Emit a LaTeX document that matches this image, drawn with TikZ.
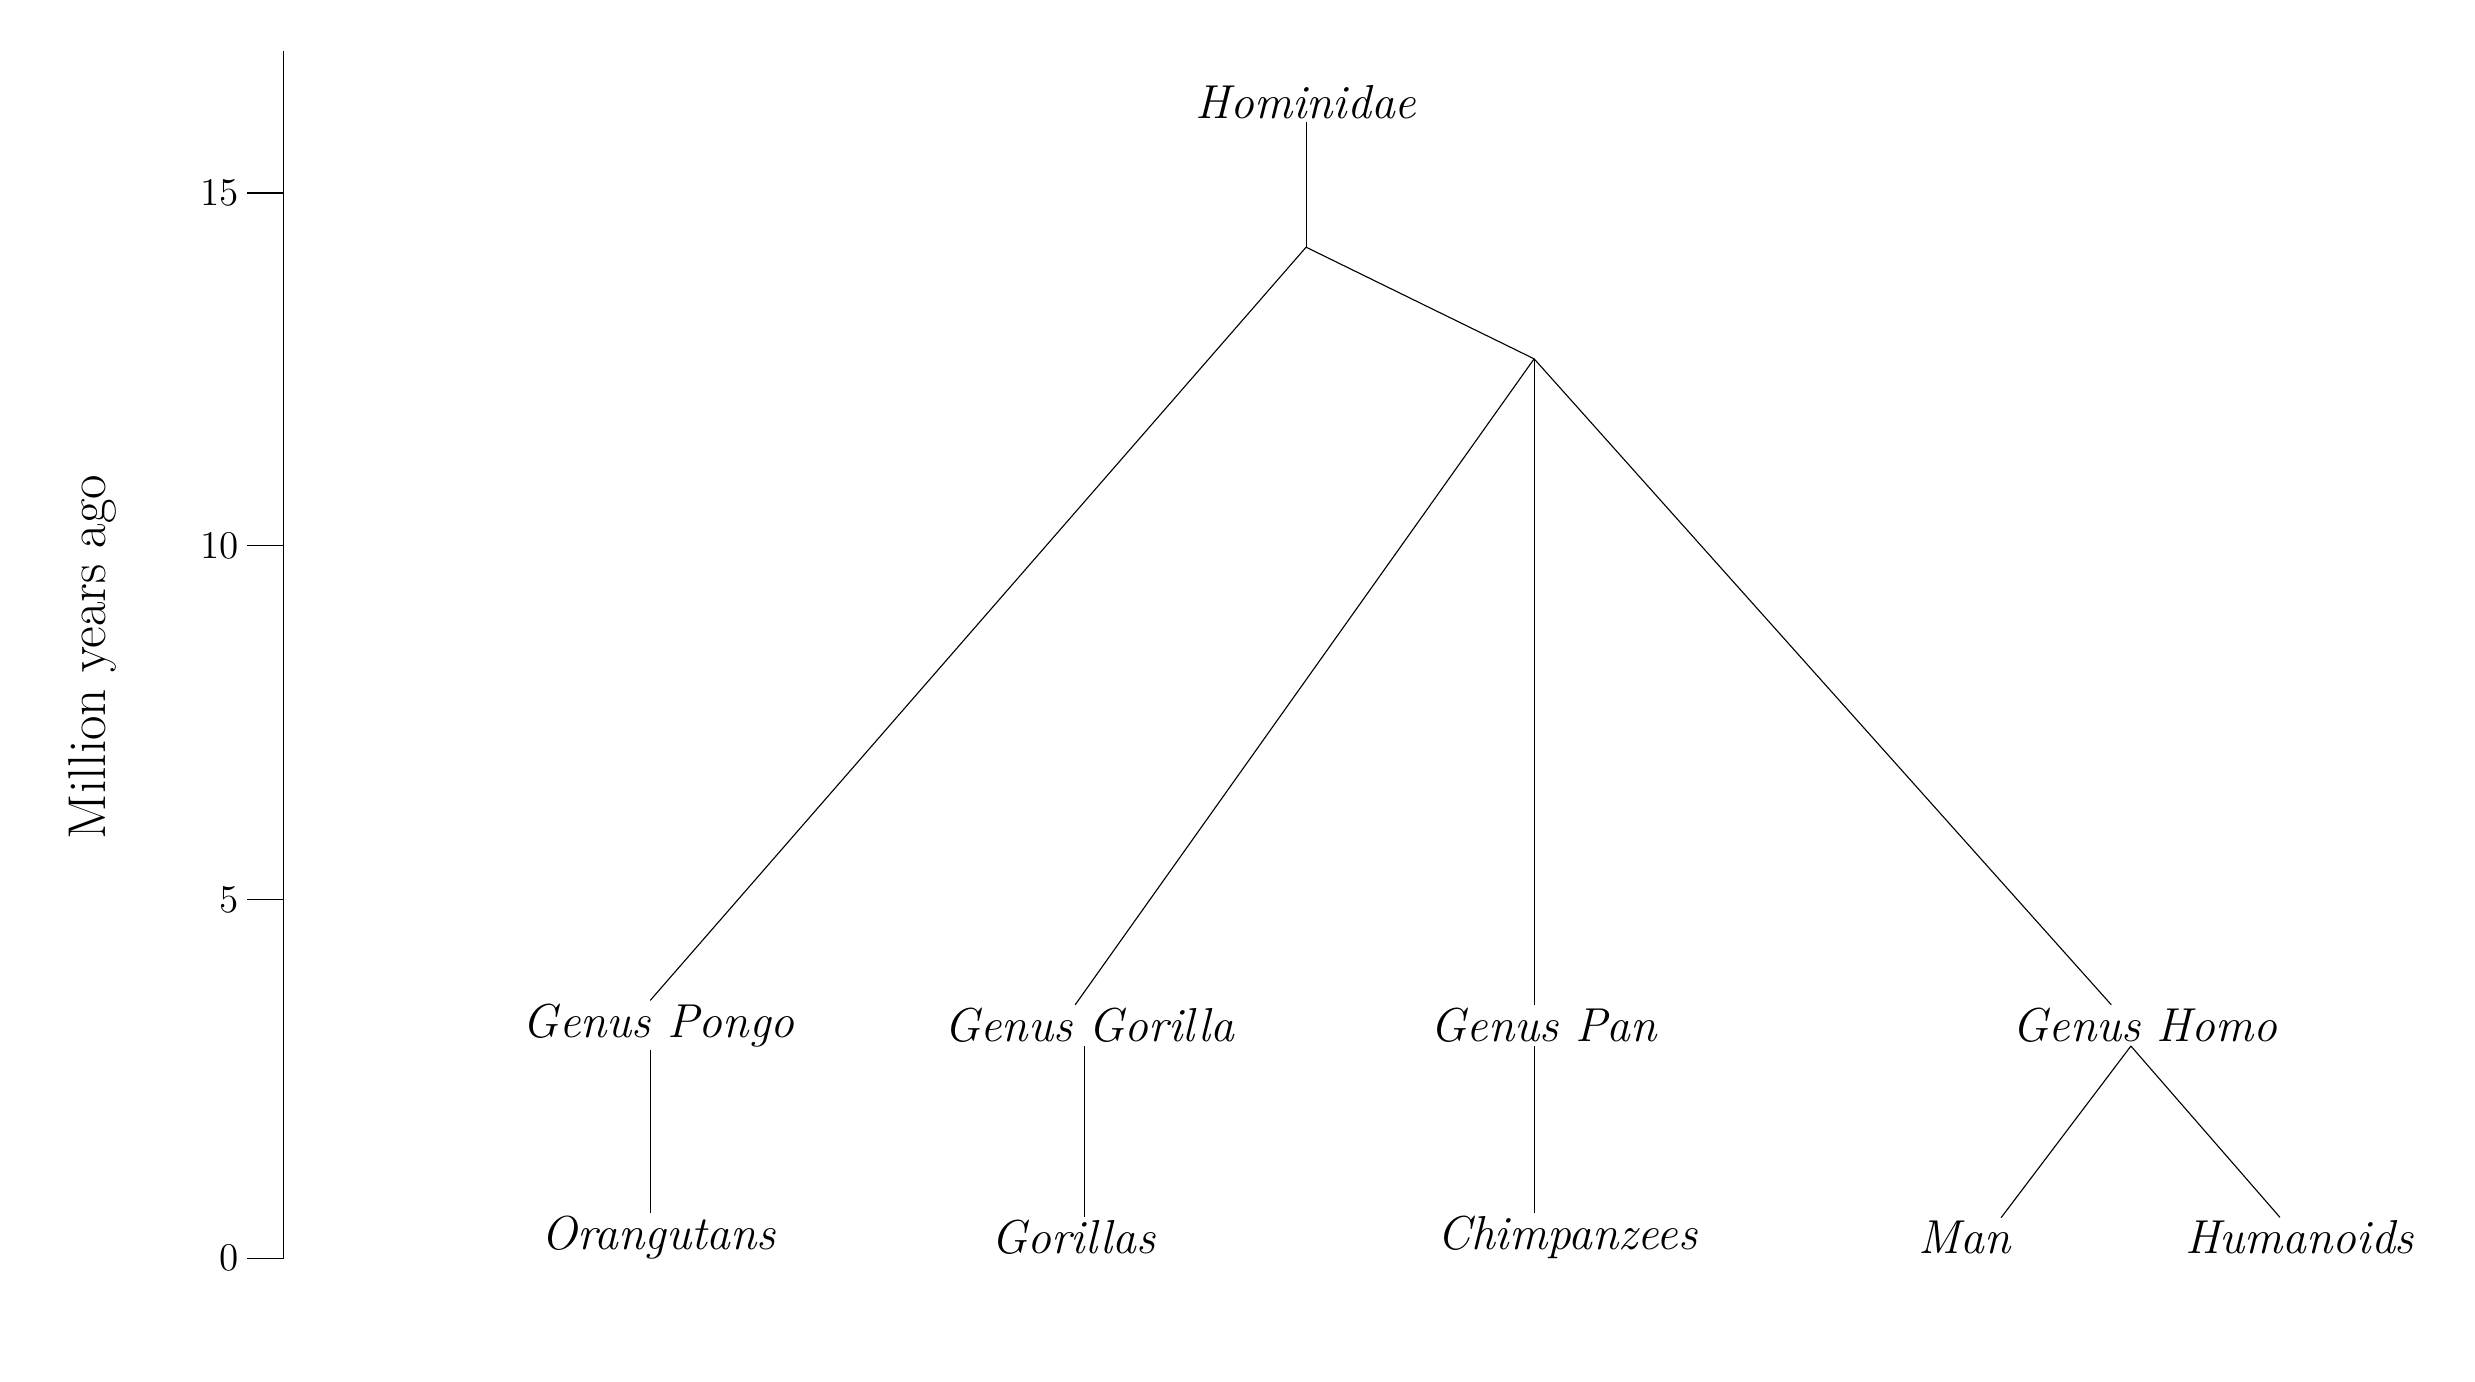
\documentclass[tikz,border=0pt]{standalone}
\begin{document}
\begin{tikzpicture}
    [
    x=0.02cm, y=-0.02cm,
    taxon/.style={font=\fontsize{17}{20}\selectfont\itshape, inner sep=1pt},
    tick/.style={font=\fontsize{14}{16}\selectfont, anchor=east, inner sep=1pt},
    branch/.style={thin}
    ]
    \useasboundingbox (0,0) rectangle (1552,866);

% Time axis
    \draw (178,32) -- (178,789);
    \foreach \yy/\lab in {789/0, 564/5, 342/10, 121/15} {
        \draw (155,\yy) -- (178,\yy);
        \node[tick] at (152,\yy) {\lab};
    }
    \node[font=\fontsize{19}{21}\selectfont, rotate=90] (axis) at (58,412) {Million years ago};

% Root
    \node[taxon] (hominidae) at (819,64) {Hominidae};
    \coordinate (root) at (819,155);
    \coordinate (split) at (962,225);

% Genera
    \node[taxon] (pongo) at (413,643) {Genus Pongo};
    \node[taxon] (gorilla) at (683,643) {Genus Gorilla};
    \node[taxon] (pan) at (968,643) {Genus Pan};
    \node[taxon] (homo) at (1345,643) {Genus Homo};

% Species
    \node[taxon] (orangutans) at (413,776) {Orangutans};
    \node[taxon] (gorillas) at (673,776) {Gorillas};
    \node[taxon] (chimps) at (983,776) {Chimpanzees};
    \node[taxon] (man) at (1232,776) {Man};
    \node[taxon] (humanoids) at (1442,776) {Humanoids};

% Branches
    \draw[branch] (hominidae.south) -- (root);
    \draw[branch] (root) -- (split);
    \draw[branch] (root) -- ([xshift=-3]pongo.north);
    \draw[branch] (split) -- ([xshift=-5]gorilla.north);
    \draw[branch] (split) -- (split |- pan.north);
    \draw[branch] (split) -- ([xshift=-12]homo.north);

    \draw[branch] ([xshift=-3]orangutans.north |- pongo.south) -- ([xshift=-3]orangutans.north);
    \draw[branch] ([xshift=4]gorillas.north |- gorilla.south) -- ([xshift=4]gorillas.north);
    \draw[branch] (split |- pan.south) -- (split |- chimps.north);
    \draw[branch] ([xshift=-5]homo.south) -- ([xshift=13]man.north);
    \draw[branch] ([xshift=-5]homo.south) -- ([xshift=-7]humanoids.north);
\end{tikzpicture}
\end{document}
